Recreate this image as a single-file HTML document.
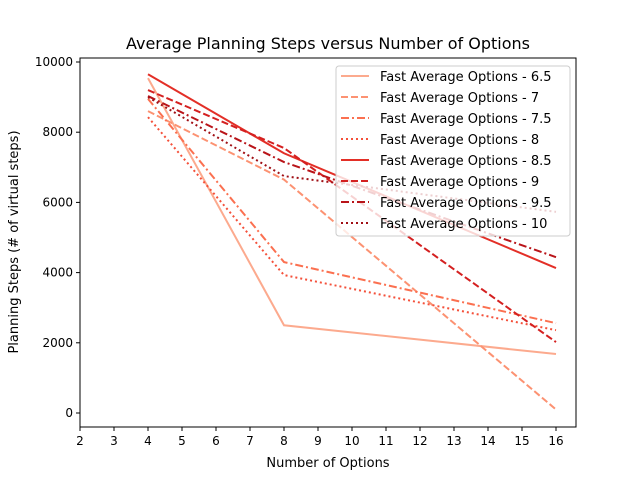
<!DOCTYPE html>
<html><head><meta charset="utf-8"><style>
body{margin:0;background:#fff;font-family:"Liberation Sans","DejaVu Sans",sans-serif}
</style></head><body>
<svg id="chart" width="640" height="480" xmlns="http://www.w3.org/2000/svg" font-family="DejaVu Sans, Liberation Sans, sans-serif">
<rect width="640" height="480" fill="#fff"/>
<text x="328" y="49" text-anchor="middle" font-size="16">Average Planning Steps versus Number of Options</text>
<g id="plot"></g>
<rect x="80" y="58" width="496" height="369" fill="none" stroke="#000" stroke-width="1"/>
<text x="328" y="467" text-anchor="middle" font-size="13">Number of Options</text>
<text transform="translate(18,242) rotate(-90)" text-anchor="middle" font-size="13">Planning Steps (# of virtual steps)</text>
<g id="legend"></g>
</svg>
<script>
const xValues=[4,8,16];
const seriesNames=["Fast Average Options - 6.5","Fast Average Options - 7","Fast Average Options - 7.5","Fast Average Options - 8","Fast Average Options - 8.5","Fast Average Options - 9","Fast Average Options - 9.5","Fast Average Options - 10"];
const s65=[9540,2500,1680];
const s7=[8600,6650,100];
const s75=[8950,4300,2560];
const s8=[8430,3930,2360];
const s85=[9650,7400,4130];
const s9=[9200,7550,2020];
const s95=[9030,7150,4440];
const s10=[9000,6750,5730];
const xTicks=[2,3,4,5,6,7,8,9,10,11,12,13,14,15,16];
const yTicks=[0,2000,4000,6000,8000,10000];
const series=[s65,s7,s75,s8,s85,s9,s95,s10];
const colors=["#fcaa8e","#fc9272","#fb7050","#f4503a","#e32f27","#d42020","#b91419","#a00f15"];
const dashes=["","7,3","8,3,2,3","2,3","","7,3","8,3,2,3","2,3"];
const X=v=>80+(v-2)*34;
const Y=v=>413-v*0.0351;
const NS="http://www.w3.org/2000/svg";
const plot=document.getElementById('plot');
function mk(t,a,p){const e=document.createElementNS(NS,t);for(const k in a)e.setAttribute(k,a[k]);p.appendChild(e);return e;}
xTicks.forEach(t=>{
 const l=mk('line',{x1:X(t),x2:X(t),y1:427,y2:431,stroke:'#000'},plot);
 
 
 const tx=mk('text',{x:X(t),y:445,'text-anchor':'middle','font-size':'12'},plot);tx.textContent=t;
 
 
});
yTicks.forEach(t=>{
 const l=mk('line',{x1:76,x2:80,y1:Y(t),y2:Y(t),stroke:'#000'},plot);
 
 
 const tx=mk('text',{x:73,y:Y(t)+4,'text-anchor':'end','font-size':'12'},plot);tx.textContent=t;
 
 
});
series.forEach((s,i)=>{
 const p=mk('polyline',{points:s.map((v,j)=>X(xValues[j])+','+Y(v)).join(' '),fill:'none',stroke:colors[i],'stroke-width':'2','stroke-dasharray':dashes[i]},plot);
 
 
});
const lg=document.getElementById('legend');
const box=mk('rect',{x:336,y:66,width:234,height:170,rx:3,fill:'#fff','fill-opacity':'0.8',stroke:'#ccc'},lg);


seriesNames.forEach((n,i)=>{
 const y=76+i*21;
 const l=mk('line',{x1:341,x2:369,y1:y,y2:y,stroke:colors[i],'stroke-width':'2','stroke-dasharray':dashes[i]},lg);
 
 
 const t=mk('text',{x:380,y:y+5,'font-size':'13'},lg);t.textContent=n;
 
 
});
</script>
</body></html>
